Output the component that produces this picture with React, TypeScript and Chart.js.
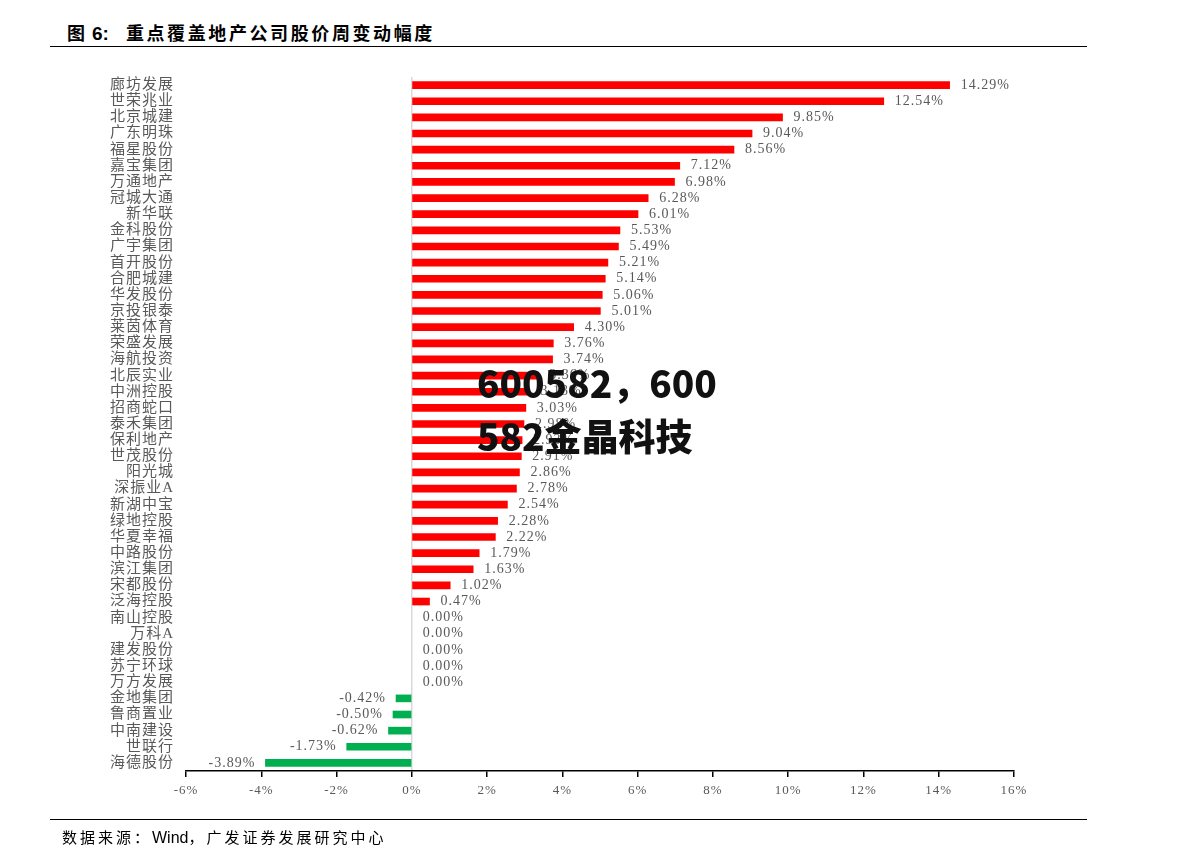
import React, { useEffect, useRef } from "react";
import { Chart, registerables } from "chart.js";

Chart.register(...registerables);

const categories: string[] = [
  "廊坊发展", "世荣兆业", "北京城建", "广东明珠", "福星股份", "嘉宝集团", "万通地产", "冠城大通",
  "新华联", "金科股份", "广宇集团", "首开股份", "合肥城建", "华发股份", "京投银泰", "莱茵体育",
  "荣盛发展", "海航投资", "北辰实业", "中洲控股", "招商蛇口", "泰禾集团", "保利地产", "世茂股份",
  "阳光城", "深振业A", "新湖中宝", "绿地控股", "华夏幸福", "中路股份", "滨江集团", "宋都股份",
  "泛海控股", "南山控股", "万科A", "建发股份", "苏宁环球", "万方发展", "金地集团", "鲁商置业",
  "中南建设", "世联行", "海德股份",
];

const weeklyChange: number[] = [
  14.29, 12.54, 9.85, 9.04, 8.56, 7.12, 6.98, 6.28,
  6.01, 5.53, 5.49, 5.21, 5.14, 5.06, 5.01, 4.30,
  3.76, 3.74, 3.36, 3.13, 3.03, 2.98, 2.93, 2.91,
  2.86, 2.78, 2.54, 2.28, 2.22, 1.79, 1.63, 1.02,
  0.47, 0.00, 0.00, 0.00, 0.00, 0.00, -0.42, -0.50,
  -0.62, -1.73, -3.89,
];

const xTicks: number[] = [-6, -4, -2, 0, 2, 4, 6, 8, 10, 12, 14, 16];

const UP_COLOR = "#FF0000";
const DOWN_COLOR = "#00B050";
const TEXT_COLOR = "#595959";
const SERIF = "'Liberation Serif', 'Noto Sans CJK SC', serif";
const CJK = "'Noto Sans CJK SC', sans-serif";

const spacingPlugin = {
  id: "letterSpacing",
  beforeDraw(chart: any) {
    chart.ctx.letterSpacing = "1px";
  },
  afterDraw(chart: any) {
    chart.ctx.letterSpacing = "0px";
  },
};

const valueLabelPlugin = {
  id: "valueLabels",
  afterDatasetsDraw(chart: any) {
    const { ctx } = chart;
    const meta = chart.getDatasetMeta(0);
    const xScale = chart.scales.x;
    const zeroX = xScale.getPixelForValue(0);
    ctx.save();
    ctx.letterSpacing = "1px";
    ctx.font = `14px ${SERIF}`;
    ctx.fillStyle = TEXT_COLOR;
    ctx.textBaseline = "middle";
    meta.data.forEach((bar: any, i: number) => {
      const v = weeklyChange[i];
      const txt = v.toFixed(2) + "%";
      if (v < 0) {
        ctx.textAlign = "right";
        ctx.fillText(txt, bar.x - 10, bar.y);
      } else {
        ctx.textAlign = "left";
        ctx.fillText(txt, Math.max(bar.x, zeroX) + 11, bar.y);
      }
    });
    ctx.restore();
  },
};

export default function App() {
  const canvasRef = useRef<HTMLCanvasElement | null>(null);

  useEffect(() => {
    if (!canvasRef.current) return;
    const chart = new Chart(canvasRef.current, {
      type: "bar",
      data: {
        labels: categories,
        datasets: [
          {
            data: weeklyChange,
            backgroundColor: weeklyChange.map((v) => (v < 0 ? DOWN_COLOR : v > 0 ? UP_COLOR : "rgba(0,0,0,0)")),
            barThickness: 7,
            borderWidth: 0,
          },
        ],
      },
      options: {
        indexAxis: "y",
        animation: false,
        responsive: false,
        maintainAspectRatio: false,
        layout: { padding: { top: 77, right: 177, left: 0, bottom: 0 } },
        plugins: {
          legend: { display: false },
          tooltip: { enabled: false },
        },
        scales: {
          x: {
            type: "linear",
            min: -6,
            max: 16,
            afterBuildTicks: (scale: any) => {
              scale.ticks = xTicks.map((v) => ({ value: v }));
            },
            afterFit: (scale: any) => {
              scale.height = 96;
            },
            ticks: {
              color: TEXT_COLOR,
              font: { family: SERIF, size: 13 },
              padding: 6,
              callback: (v: any) => `${v}%`,
            },
            grid: {
              color: (c: any) => (c.tick && c.tick.value === 0 ? "#D9D9D9" : "rgba(0,0,0,0)"),
              lineWidth: 1.5,
              drawTicks: true,
              tickLength: 6,
              tickColor: "#000000",
              tickWidth: 1.5,
            },
            border: { display: true, color: "#000000", width: 1.5 },
          },
          y: {
            type: "category",
            offset: true,
            afterFit: (scale: any) => {
              scale.width = 186;
            },
            ticks: {
              color: TEXT_COLOR,
              font: { family: SERIF, size: 15 },
              padding: 12,
              autoSkip: false,
            },
            grid: { display: false, drawTicks: false },
            border: { display: false },
          },
        },
      },
      plugins: [spacingPlugin, valueLabelPlugin],
    } as any);
    return () => chart.destroy();
  }, []);

  return (
    <div style={{ position: "relative", width: 1191, height: 867, margin: -8, background: "#fff", overflow: "hidden" }}>
      <div
        style={{
          position: "absolute",
          left: 67,
          top: 19,
          fontFamily: CJK,
          fontWeight: 700,
          fontSize: 18,
          color: "#000",
          lineHeight: "26px",
          whiteSpace: "nowrap",
        }}
      >
        <span style={{ marginRight: 7 }}>图</span>
        <span style={{ fontFamily: "'Liberation Sans', Arial, sans-serif", fontSize: 19 }}>6:</span>
        <span style={{ marginLeft: 17, letterSpacing: "2.6px" }}>重点覆盖地产公司股价周变动幅度</span>
      </div>
      <div style={{ position: "absolute", left: 50, top: 46, width: 1037, height: 1, background: "#000" }} />
      <canvas
        ref={canvasRef}
        width={1191}
        height={867}
        style={{ position: "absolute", left: 0, top: 0, width: 1191, height: 867 }}
      />
      <div style={{ position: "absolute", left: 50, top: 819, width: 1037, height: 1, background: "#000" }} />
      <div
        style={{
          position: "absolute",
          left: 62,
          top: 826,
          fontFamily: CJK,
          fontSize: 15,
          color: "#000",
          lineHeight: "22px",
          whiteSpace: "nowrap",
        }}
      >
        <span style={{ letterSpacing: "3px" }}>数据来源：</span>
        <span style={{ fontFamily: "'Liberation Sans', Arial, sans-serif", fontSize: 16 }}>Wind</span>
        <span style={{ letterSpacing: "3px" }}>，广发证券发展研究中心</span>
      </div>
      <div
        style={{
          position: "absolute",
          left: 477,
          top: 356,
          fontFamily: CJK,
          fontWeight: 900,
          fontSize: 37,
          color: "#111",
          lineHeight: "53px",
          whiteSpace: "nowrap",
        }}
      >
        600582，600
        <br />
        582金晶科技
      </div>
    </div>
  );
}
